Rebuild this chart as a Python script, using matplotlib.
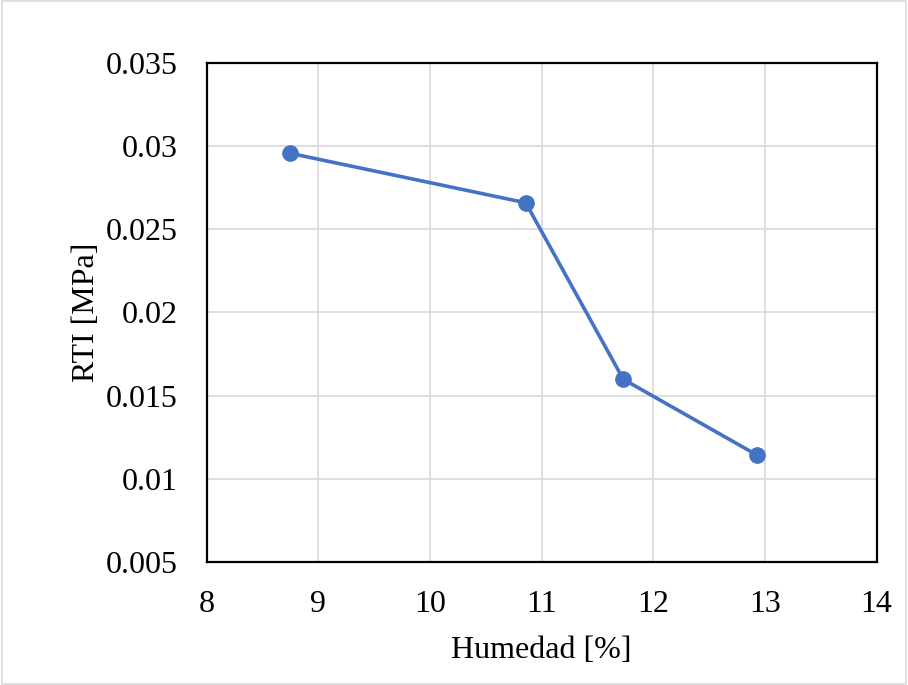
import matplotlib
matplotlib.use("Agg")
import matplotlib.pyplot as plt
from matplotlib.patches import Rectangle

# data
humedad = [8.746, 10.857, 11.731, 12.931]
rti = [0.02956, 0.02659, 0.01599, 0.01143]
x_ticks = [8, 9, 10, 11, 12, 13, 14]
y_ticks = [0.005, 0.01, 0.015, 0.02, 0.025, 0.03, 0.035]
y_tick_labels = ["0.005", "0.01", "0.015", "0.02", "0.025", "0.03", "0.035"]

plt.rcParams['font.family'] = ['Liberation Serif', 'DejaVu Serif']

fig = plt.figure(figsize=(9.08, 6.85), dpi=100)
ax = fig.add_axes([0.2276, 0.1791, 0.7379, 0.7294])

ax.plot(humedad, rti, color='#4472C4', linewidth=2.6, marker='o',
        markersize=11, zorder=3)

ax.set_xlim(8, 14)
ax.set_ylim(0.005, 0.035)
ax.set_xticks(x_ticks)
ax.set_yticks(y_ticks)
ax.set_yticklabels(y_tick_labels)
ax.tick_params(axis='both', length=0, labelsize=23)
ax.tick_params(axis='y', pad=21)
ax.tick_params(axis='x', pad=20)
ax.grid(True, color='#d9d9d9', linewidth=1.2)
ax.set_axisbelow(True)
for s in ax.spines.values():
    s.set_color('black')
    s.set_linewidth(1.6)

ax.set_xlabel('Humedad [%]', fontsize=23, labelpad=12)
ax.set_ylabel('RTI [MPa]', fontsize=23, labelpad=3.5)

# light chart-area border
fig.patches.append(Rectangle((0.002, 0.002), 0.996, 0.996, transform=fig.transFigure,
                             fill=False, edgecolor='#d9d9d9', linewidth=1.2))

fig.savefig('out.png', dpi=100)
